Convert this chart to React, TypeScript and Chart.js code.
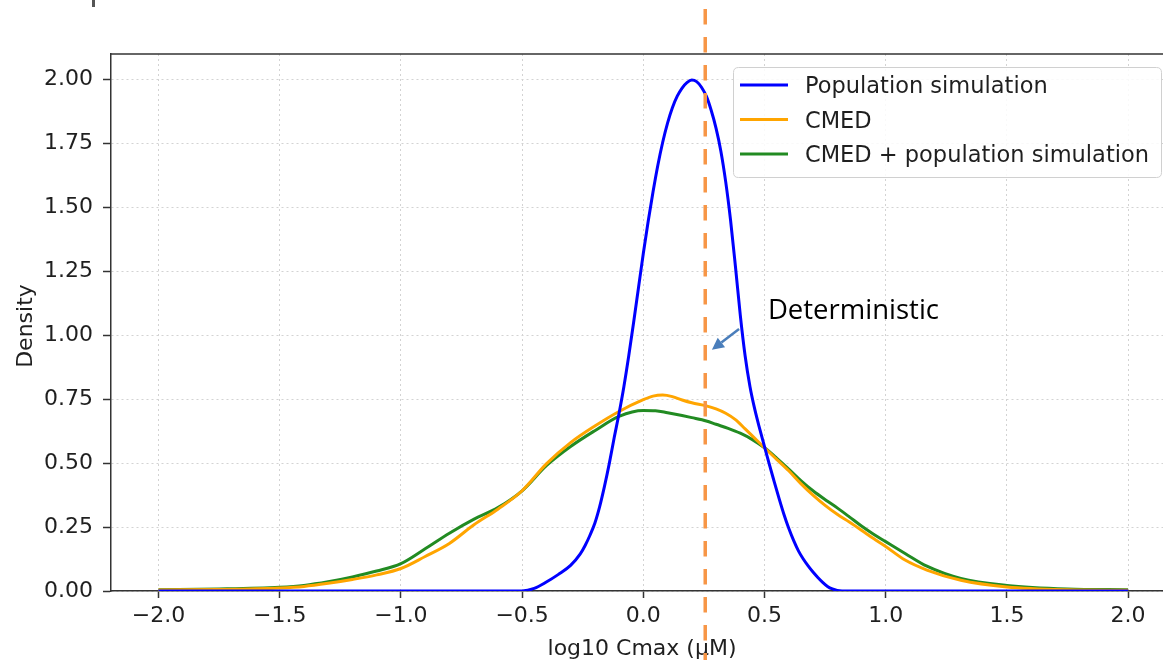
import React, { useEffect, useRef } from "react";
import { Chart, registerables } from "chart.js";

Chart.register(...registerables);

// ---- Data ----
const POP_X = [-2.0, -1.0, -0.5, -0.45, -0.4, -0.35, -0.3, -0.26, -0.24, -0.22, -0.2, -0.18, -0.16, -0.14, -0.12, -0.1, -0.08, -0.06, -0.04, -0.02, 0.0, 0.02, 0.04, 0.06, 0.08, 0.1, 0.12, 0.14, 0.16, 0.18, 0.2, 0.22, 0.24, 0.26, 0.28, 0.3, 0.32, 0.34, 0.36, 0.38, 0.4, 0.42, 0.44, 0.46, 0.48, 0.5, 0.52, 0.54, 0.56, 0.58, 0.6, 0.62, 0.64, 0.66, 0.68, 0.7, 0.72, 0.74, 0.76, 0.78, 0.8, 0.82, 1.0, 2.0];
const POP_Y = [0, 0, 0.0, 0.01, 0.035, 0.065, 0.1, 0.145, 0.178, 0.218, 0.265, 0.33, 0.41, 0.5, 0.6, 0.695, 0.8, 0.92, 1.05, 1.185, 1.32, 1.445, 1.56, 1.665, 1.755, 1.83, 1.89, 1.935, 1.967, 1.988, 1.998, 1.992, 1.97, 1.935, 1.88, 1.81, 1.72, 1.6, 1.45, 1.27, 1.08, 0.92, 0.8, 0.71, 0.635, 0.565, 0.495, 0.428, 0.362, 0.3, 0.245, 0.198, 0.157, 0.125, 0.098, 0.074, 0.053, 0.034, 0.018, 0.008, 0.002, 0.0, 0.0, 0.0];

const CMED_X = [-2.0, -1.75, -1.5, -1.4, -1.3, -1.2, -1.1, -1.0, -0.9, -0.8, -0.7, -0.6, -0.5, -0.4, -0.3, -0.2, -0.1, 0.0, 0.04, 0.08, 0.12, 0.16, 0.2, 0.26, 0.3, 0.34, 0.38, 0.42, 0.46, 0.5, 0.55, 0.6, 0.65, 0.7, 0.75, 0.8, 0.85, 0.9, 0.95, 1.0, 1.08, 1.17, 1.31, 1.5, 1.75, 2.0];
const CMED_Y = [0.004, 0.006, 0.012, 0.018, 0.03, 0.045, 0.063, 0.088, 0.135, 0.186, 0.258, 0.32, 0.392, 0.497, 0.58, 0.645, 0.702, 0.748, 0.762, 0.766, 0.76, 0.747, 0.736, 0.724, 0.712, 0.695, 0.67, 0.634, 0.597, 0.56, 0.515, 0.47, 0.42, 0.375, 0.335, 0.3, 0.27, 0.238, 0.205, 0.174, 0.121, 0.082, 0.042, 0.016, 0.005, 0.003];

const COMB_X = [-2.0, -1.75, -1.5, -1.4, -1.3, -1.2, -1.1, -1.0, -0.9, -0.8, -0.7, -0.6, -0.5, -0.4, -0.3, -0.2, -0.1, 0.0, 0.05, 0.1, 0.16, 0.2, 0.26, 0.3, 0.35, 0.4, 0.45, 0.5, 0.55, 0.6, 0.65, 0.7, 0.76, 0.8, 0.85, 0.9, 0.95, 1.0, 1.08, 1.17, 1.31, 1.5, 1.75, 2.0];
const COMB_Y = [0.005, 0.008, 0.015, 0.022, 0.036, 0.055, 0.078, 0.107, 0.165, 0.226, 0.28, 0.326, 0.392, 0.49, 0.565, 0.627, 0.683, 0.706, 0.705, 0.697, 0.686, 0.678, 0.665, 0.652, 0.636, 0.617, 0.592, 0.56, 0.52, 0.477, 0.432, 0.392, 0.351, 0.325, 0.29, 0.254, 0.222, 0.193, 0.147, 0.097, 0.049, 0.022, 0.008, 0.005];

const SERIES_LABELS = ["Population simulation", "CMED", "CMED + population simulation"];
const SERIES_COLORS = ["#0000ff", "#ffa500", "#228b22"];

const X_TICKS = [-2.0, -1.5, -1.0, -0.5, 0.0, 0.5, 1.0, 1.5, 2.0];
const Y_TICKS = [0, 0.25, 0.5, 0.75, 1.0, 1.25, 1.5, 1.75, 2.0];
const X_MIN = -2.196;
const X_MAX = 2.144;
const Y_MIN = 0;
const Y_MAX = 2.1;

const X_TITLE = "log10 Cmax (\u00b5M)";
const Y_TITLE = "Density";

const DETERMINISTIC_X = 0.2555;
const ANNOTATION_TEXT = "Deterministic";
const ANNOTATION_TEXT_POS = { x: 0.514, y: 1.062 };
const ARROW_FROM = { x: 0.395, y: 1.025 };
const ARROW_TO = { x: 0.283, y: 0.943 };

const FONT = "'DejaVu Sans', sans-serif";
const TEXT_COLOR = "#1f1f1f";
const SPINE_COLOR = "#333333";

const fmtX = (v: number) => (v < 0 ? "\u2212" + Math.abs(v).toFixed(1) : v.toFixed(1));

const pts = (xs: number[], ys: number[]) => xs.map((x, i) => ({ x, y: ys[i] }));

const extrasPlugin = {
  id: "extras",
  afterDraw(chart: any) {
    const { ctx, chartArea: ca, scales } = chart;
    const xs = scales.x;
    const ys = scales.y;
    ctx.save();

    // top spine
    ctx.strokeStyle = SPINE_COLOR;
    ctx.lineWidth = 1.5;
    ctx.beginPath();
    ctx.moveTo(ca.left - 0.75, ca.top);
    ctx.lineTo(ca.right, ca.top);
    ctx.stroke();

    // legend
    const bx = 733.5, by = 67.5, bw = 428, bh = 110, r = 5;
    ctx.beginPath();
    ctx.moveTo(bx + r, by);
    ctx.lineTo(bx + bw - r, by);
    ctx.quadraticCurveTo(bx + bw, by, bx + bw, by + r);
    ctx.lineTo(bx + bw, by + bh - r);
    ctx.quadraticCurveTo(bx + bw, by + bh, bx + bw - r, by + bh);
    ctx.lineTo(bx + r, by + bh);
    ctx.quadraticCurveTo(bx, by + bh, bx, by + bh - r);
    ctx.lineTo(bx, by + r);
    ctx.quadraticCurveTo(bx, by, bx + r, by);
    ctx.closePath();
    ctx.fillStyle = "rgba(255,255,255,0.85)";
    ctx.fill();
    ctx.strokeStyle = "#d0d0d0";
    ctx.lineWidth = 1;
    ctx.stroke();

    const rowsY = [85, 119.5, 154];
    chart.data.datasets.forEach((ds: any, i: number) => {
      const yy = rowsY[i];
      ctx.strokeStyle = ds.borderColor;
      ctx.lineWidth = 3;
      ctx.beginPath();
      ctx.moveTo(740, yy);
      ctx.lineTo(788, yy);
      ctx.stroke();
      ctx.fillStyle = TEXT_COLOR;
      ctx.font = `22.5px ${FONT}`;
      ctx.textAlign = "left";
      ctx.textBaseline = "alphabetic";
      ctx.fillText(ds.label, 805, yy + 8);
    });

    // axis titles
    ctx.fillStyle = TEXT_COLOR;
    ctx.font = `22px ${FONT}`;
    ctx.textAlign = "center";
    ctx.textBaseline = "alphabetic";
    ctx.fillText(X_TITLE, 642, 655);
    ctx.save();
    ctx.translate(31.5, 326);
    ctx.rotate(-Math.PI / 2);
    ctx.fillText(Y_TITLE, 0, 0);
    ctx.restore();

    // dashed deterministic line
    const dx = xs.getPixelForValue(DETERMINISTIC_X);
    ctx.strokeStyle = "#f79646";
    ctx.lineWidth = 3.5;
    ctx.setLineDash([15.5, 12.5]);
    ctx.beginPath();
    ctx.moveTo(dx, 9);
    ctx.lineTo(dx, 660);
    ctx.stroke();
    ctx.setLineDash([]);

    // annotation text
    ctx.fillStyle = "#000000";
    ctx.font = `27.5px 'Open Sans', 'Lato', sans-serif`;
    ctx.textAlign = "left";
    ctx.textBaseline = "alphabetic";
    ctx.fillText(ANNOTATION_TEXT, xs.getPixelForValue(ANNOTATION_TEXT_POS.x), ys.getPixelForValue(ANNOTATION_TEXT_POS.y));

    // arrow
    const ax1 = xs.getPixelForValue(ARROW_FROM.x), ay1 = ys.getPixelForValue(ARROW_FROM.y);
    const ax2 = xs.getPixelForValue(ARROW_TO.x), ay2 = ys.getPixelForValue(ARROW_TO.y);
    const ang = Math.atan2(ay2 - ay1, ax2 - ax1);
    const hl = 12, hw = 6;
    const bxp = ax2 - hl * Math.cos(ang), byp = ay2 - hl * Math.sin(ang);
    ctx.strokeStyle = "#4a7ebb";
    ctx.fillStyle = "#4a7ebb";
    ctx.lineWidth = 2.5;
    ctx.beginPath();
    ctx.moveTo(ax1, ay1);
    ctx.lineTo(bxp, byp);
    ctx.stroke();
    ctx.beginPath();
    ctx.moveTo(ax2, ay2);
    ctx.lineTo(bxp + hw * Math.sin(ang), byp - hw * Math.cos(ang));
    ctx.lineTo(bxp - hw * Math.sin(ang), byp + hw * Math.cos(ang));
    ctx.closePath();
    ctx.fill();

    // small cropped mark at top-left
    ctx.fillStyle = "#555555";
    ctx.fillRect(92, 0, 3, 7);

    ctx.restore();
  },
};

export default function App() {
  const ref = useRef<HTMLCanvasElement>(null);

  useEffect(() => {
    document.body.style.margin = "0";
    const canvas = ref.current;
    if (!canvas) return;
    const mk = (i: number, xs: number[], ys: number[]) => ({
      label: SERIES_LABELS[i],
      data: pts(xs, ys),
      borderColor: SERIES_COLORS[i],
      backgroundColor: SERIES_COLORS[i],
      borderWidth: 3,
      pointRadius: 0,
      fill: false,
      cubicInterpolationMode: "monotone" as const,
    });
    const chart = new Chart(canvas, {
      type: "line",
      data: {
        datasets: [mk(0, POP_X, POP_Y), mk(1, CMED_X, CMED_Y), mk(2, COMB_X, COMB_Y)],
      },
      options: {
        responsive: false,
        animation: false,
        events: [],
        layout: { padding: { top: 54, left: 0, right: 0, bottom: 0 } },
        plugins: {
          legend: { display: false },
          tooltip: { enabled: false },
          title: { display: false },
        },
        scales: {
          x: {
            type: "linear",
            min: X_MIN,
            max: X_MAX,
            bounds: "data",
            afterBuildTicks: (s: any) => {
              s.ticks = X_TICKS.map((v) => ({ value: v }));
            },
            afterFit: (s: any) => {
              s.height = 69;
            },
            ticks: {
              callback: (v: any) => fmtX(Number(v)),
              font: { family: FONT, size: 22 },
              color: TEXT_COLOR,
              padding: 5,
              maxRotation: 0,
              autoSkip: false,
            },
            grid: {
              color: "#d3d3d3",
              lineWidth: 1,
              tickColor: SPINE_COLOR,
              tickLength: 7,
              tickWidth: 1.5,
              tickBorderDash: [],
            },
            border: { display: true, color: SPINE_COLOR, width: 1.5, dash: [2, 3] },
          },
          y: {
            type: "linear",
            min: Y_MIN,
            max: Y_MAX,
            bounds: "data",
            afterBuildTicks: (s: any) => {
              s.ticks = Y_TICKS.map((v) => ({ value: v }));
            },
            afterFit: (s: any) => {
              s.width = 111;
            },
            ticks: {
              callback: (v: any) => Number(v).toFixed(2),
              font: { family: FONT, size: 22 },
              color: TEXT_COLOR,
              padding: 10,
              autoSkip: false,
            },
            grid: {
              color: "#d3d3d3",
              lineWidth: 1,
              tickColor: SPINE_COLOR,
              tickLength: 8,
              tickWidth: 1.5,
              tickBorderDash: [],
            },
            border: { display: true, color: SPINE_COLOR, width: 1.5, dash: [2, 3] },
          },
        },
      },
      plugins: [extrasPlugin],
    });
    return () => chart.destroy();
  }, []);

  return (
    <div style={{ position: "absolute", left: 0, top: 0, width: 1163, height: 660 }}>
      <canvas ref={ref} width={1163} height={660} style={{ display: "block", width: 1163, height: 660 }} />
    </div>
  );
}
